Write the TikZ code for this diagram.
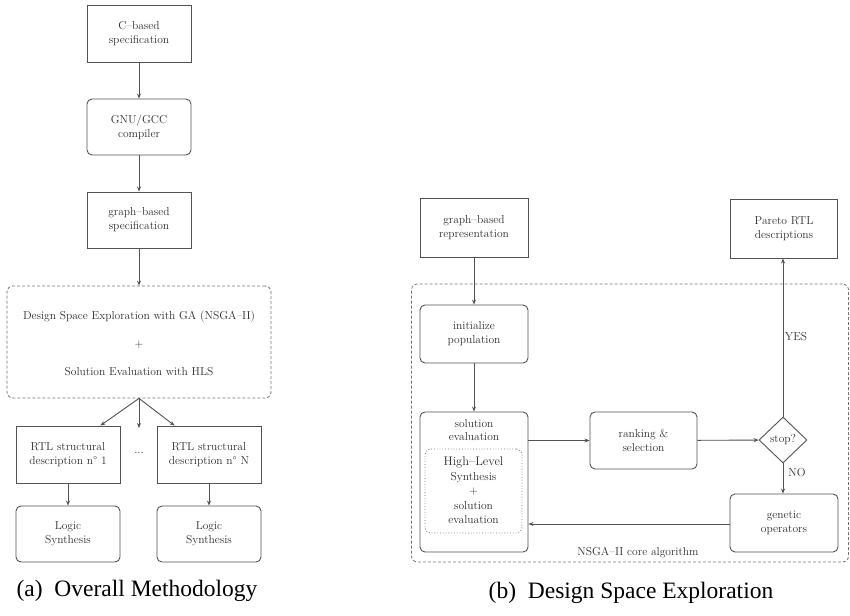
\documentclass[tikz,border=0pt]{standalone}
\usepackage{fontspec}
\newfontfamily\capfont{Liberation Serif}
\usetikzlibrary{shapes.geometric,arrows.meta}
\begin{document}
\begin{tikzpicture}[x=1pt,y=-1pt,
  every node/.style={font=\fontsize{11.5}{13.8}\selectfont, text=black!82, align=center, inner sep=0pt},
  box/.style={draw=black!68, line width=0.9pt, minimum width=104pt, minimum height=57pt},
  rbox/.style={box, rounded corners=5pt},
  dbox/.style={draw=black!55, line width=0.8pt, dashed, dash pattern=on 3pt off 2pt, rounded corners=6pt},
  arr/.style={draw=black!68, line width=0.9pt, -{Stealth[length=5pt,width=4pt]}},
  caption/.style={font=\capfont\fontsize{23.5}{26}\selectfont, text=black}
]
\useasboundingbox (0,0) rectangle (850,615);

% ---------- (a) overall methodology ----------
\node[box]  (cspec) at (139,33.5) {C--based\\specification};
\node[rbox, minimum height=56pt] (gcc) at (139,127) {GNU/GCC\\compiler};
\node[box, minimum height=56pt]  (gspec) at (139,220) {graph--based\\specification};
\node[dbox, minimum width=264pt, minimum height=112pt] (dse) at (139,342) {};
\node (dsel1) at (139,317) {Design Space Exploration with GA (NSGA--II)};
\node (dsel2) at (139,345) {+};
\node (dsel3) at (139,372) {Solution Evaluation with HLS};
\node[box] (rtl1) at (68,454.5) {RTL structural\\description n\textdegree\ 1};
\node[box] (rtln) at (209,454.5) {RTL structural\\description n\textdegree\ N};
\node (dots) at (139,453) {...};
\node[rbox, minimum height=56pt] (ls1) at (68,534) {Logic\\Synthesis};
\node[rbox, minimum height=56pt] (lsn) at (209,534) {Logic\\Synthesis};
\coordinate (midend) at (139,428);

\draw[arr] (cspec) -- (gcc);
\draw[arr] (gcc) -- (gspec);
\draw[arr] (gspec) -- (dse.north);
\draw[arr] (dse.south) -- ([xshift=-20pt]rtl1.north east);
\draw[arr] (dse.south) -- (midend);
\draw[arr] (dse.south) -- ([xshift=18pt]rtln.north west);
\draw[arr] (rtl1) -- (ls1);
\draw[arr] (rtln) -- (lsn);

\node[caption] (capa) at (137,591) {(a)\ \ Overall Methodology};

% ---------- (b) design space exploration ----------
\node[dbox, minimum width=437pt, minimum height=278pt] (core) at (630,423) {};
\node (corelbl) at (638,553) {NSGA--II core algorithm};
\node[box, minimum width=108pt, minimum height=59pt] (gbr) at (474,227.5) {graph--based\\representation};
\node[box, minimum width=107pt, minimum height=59pt] (pareto) at (784,228.5) {Pareto RTL\\descriptions};
\node[rbox, minimum width=108pt, minimum height=58pt] (init) at (474,334) {initialize\\population};
\node[rbox, minimum width=108pt, minimum height=140pt] (sol) at (474,482) {};
\node (sollbl) at (474,430) {solution\\evaluation};
\node[draw=black!55, line width=0.8pt, dotted, rounded corners=6pt, minimum width=97pt, minimum height=84pt] (hls) at (473.5,491) {};
\node[font=\fontsize{12.5}{14.3}\selectfont] (hlslbl) at (473.5,462) {High--Level};
\node[font=\fontsize{11.5}{14.3}\selectfont] (hlstxt) at (473.5,498) {Synthesis\\+\\solution\\evaluation};
\node[rbox, minimum width=107pt, minimum height=57pt] (rank) at (643.5,440.5) {ranking \&\\selection};
\node[draw=black!68, line width=0.9pt, diamond, minimum width=48pt, minimum height=46pt] (stop) at (783,440) {stop?};
\node[rbox, minimum width=108pt, minimum height=58pt] (gen) at (784,523) {genetic\\operators};
\node (yes) at (796,337) {YES};
\node (no) at (797,473) {NO};

\draw[arr] (gbr) -- (init);
\draw[arr] (init) -- (sol);
\draw[arr] (rank.west -| sol.east) -- (rank.west);
\draw[arr] (rank) -- (stop);
\draw[arr] (stop.north) -- (stop.north |- pareto.south);
\draw[arr] (stop.south) -- (stop.south |- gen.north);
\draw[arr] ([yshift=-1pt]gen.west) -- ([yshift=-1pt]gen.west -| sol.east);

\node[caption] (capb) at (631,593) {(b)\ \ Design Space Exploration};
\end{tikzpicture}
\end{document}
